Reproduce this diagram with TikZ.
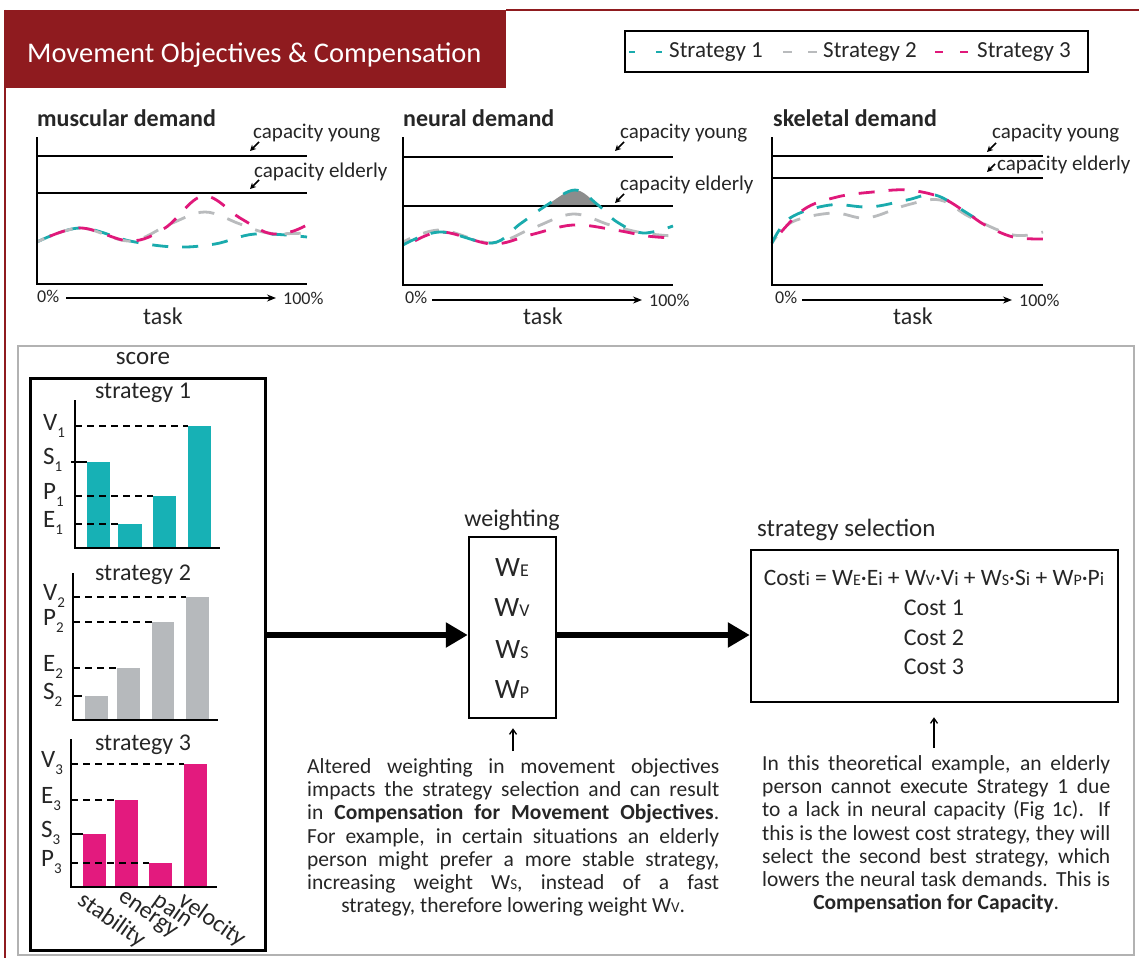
\documentclass[tikz,border=0pt]{standalone}
\usepackage{fontspec}
\setmainfont{Carlito}
\usetikzlibrary{arrows.meta}
\definecolor{hdrred}{HTML}{8F1B1F}
\definecolor{tealc}{HTML}{1AABAD}
\definecolor{grayc}{HTML}{B9BBBD}
\definecolor{magc}{HTML}{E0187A}
\definecolor{tealb}{HTML}{17B1B5}
\definecolor{grayb}{HTML}{B6B9BC}
\definecolor{magb}{HTML}{E31A7E}
\definecolor{txtc}{HTML}{262626}
\definecolor{humpc}{HTML}{8C8C8C}
\newcommand\myfs[1]{\fontsize{#1}{#1}\selectfont}
\newcommand\smc[2]{{\fontsize{#1}{#1}\selectfont #2}}
\newcommand\sbs[1]{\raisebox{-7pt}[0pt][0pt]{\myfs{15}#1}}
\begin{document}
\begin{tikzpicture}[x=1pt,y=-1pt,
  txt/.style={inner sep=0pt, text=txtc},
  ttl/.style={txt, anchor=west, font=\bfseries\myfs{24}},
  caplbl/.style={txt, anchor=west, font=\myfs{21}},
  pctlbl/.style={txt, anchor=west, font=\myfs{18}},
  tasklbl/.style={txt, font=\myfs{24}},
  capline/.style={line width=2.6pt},
  axisl/.style={line width=2.6pt},
  pointer/.style={-{Stealth[length=6pt,width=6pt]}, line width=1.6pt},
  taskarr/.style={-{Stealth[length=9pt,width=7pt]}, line width=1.3pt, shorten >=7pt},
  curve/.style={line width=2.8pt, dash pattern=on 16pt off 14pt},
  barax/.style={line width=2.5pt},
  refl/.style={line width=1.5pt, dash pattern=on 7pt off 5pt},
  letlbl/.style={txt, anchor=base west, font=\myfs{25}},
  stratlbl/.style={txt, font=\myfs{24}},
  rotlbl/.style={txt, anchor=north west, rotate=-35, font=\myfs{24}},
  boxn/.style={draw, line width=2.5pt, inner sep=0pt},
  bigarr/.style={line width=6pt, -{Triangle[length=22pt,width=24pt]}},
  uparr/.style={line width=1.3pt, -{Straight Barb[length=5pt,width=7pt]}},
  bodytxt/.style={txt, anchor=north west, font=\myfs{21.5}}
]
\useasboundingbox (0,0) rectangle (1139,958);
\fill[white] (0,0) rectangle (1139,958);

% ---------- header ----------
\fill[hdrred] (5,10) rectangle (506,88);
\draw[hdrred, line width=2.4pt] (506,10) -- (1139,10);
\draw[hdrred, line width=2.4pt] (5,10) -- (5,958);
\node[inner sep=0pt, anchor=west, text=white] (title) at (27,55) {\myfs{28.5}Movement Objectives \& Compensation};

% ---------- legend ----------
\node[draw, line width=1.5pt, minimum width=463pt, minimum height=41pt, inner sep=0pt] (legend) at (856.5,51.5) {};
\draw[tealc, line width=2.8pt, dash pattern=on 6pt off 21pt] (629,52) -- (663,52);
\node[txt, anchor=west] (lg1) at (669,52) {\myfs{23}Strategy 1};
\draw[grayc, line width=2.8pt, dash pattern=on 9pt off 16pt] (783,52) -- (817,52);
\node[txt, anchor=west] (lg2) at (823,52) {\myfs{23}Strategy 2};
\draw[magc, line width=2.8pt, dash pattern=on 8pt off 17pt] (935,52) -- (968,52);
\node[txt, anchor=west] (lg3) at (977,52) {\myfs{23}Strategy 3};

% ---------- plot 1: muscular ----------
\node[ttl] (t1) at (37,118) {muscular demand};
\draw[capline] (37,156) -- (307,156);
\draw[capline] (37,193) -- (307,193);
\draw[tealc, curve] plot[smooth, tension=0.6] coordinates {(37,242) (80,228) (130,241) (175,247) (215,244) (255,234) (307,237)};
\draw[grayc, curve, dash phase=8pt] plot[smooth, tension=0.6] coordinates {(37,242) (80,228) (130,241) (170,224) (205,212) (240,224) (268,233) (307,233)};
\draw[magc, curve, dash phase=16pt] plot[smooth, tension=0.6] coordinates {(37,242) (80,228) (130,241) (165,228) (203,196) (240,218) (268,233) (290,232) (307,225)};
\draw[axisl] (37,137) -- (37,284) -- (307,284);
\node[caplbl] (cy1) at (253,133) {capacity young};
\draw[pointer] (259,142) -- (250,151);
\node[caplbl] (ce1) at (254,172) {capacity elderly};
\draw[pointer] (259,180) -- (250,189);
\node[pctlbl] (z1) at (37,296) {0\%};
\node[pctlbl] (h1) at (283,298) {100\%};
\draw[taskarr] (66,298) -- (h1.west);
\node[tasklbl] (k1) at (163,316) {task};

% ---------- plot 2: neural ----------
\node[ttl] (t2) at (403,118) {neural demand};
\draw[capline] (403,157) -- (673,157);
\begin{scope}
  \clip (403,137) rectangle (673,206);
  \fill[humpc] plot[smooth, tension=0.6] coordinates {(403,245) (440,232) (492,243) (520,224) (547,205) (575,190) (598,205) (617,222) (643,233) (673,226)} -- (673,300) -- (403,300) -- cycle;
\end{scope}
\draw[capline] (403,206) -- (673,206);
\draw[grayc, curve, dash phase=8pt] plot[smooth, tension=0.6] coordinates {(403,242) (440,230) (492,243) (533,228) (573,214) (610,225) (643,233) (673,236)};
\draw[magc, curve, dash phase=16pt] plot[smooth, tension=0.6] coordinates {(403,248) (440,232) (492,244) (530,235) (573,225) (615,230) (647,236) (673,238)};
\draw[tealc, curve] plot[smooth, tension=0.6] coordinates {(403,245) (440,232) (492,243) (520,224) (547,205) (575,190) (598,205) (617,222) (643,233) (673,226)};
\draw[axisl] (403,137) -- (403,285) -- (673,285);
\node[caplbl] (cy2) at (620,133) {capacity young};
\draw[pointer] (624,142) -- (615,151);
\node[caplbl] (ce2) at (620,185) {capacity elderly};
\draw[pointer] (624,194) -- (615,203);
\node[pctlbl] (z2) at (405,297) {0\%};
\node[pctlbl] (h2) at (649,300) {100\%};
\draw[taskarr] (432,300) -- (h2.west);
\node[tasklbl] (k2) at (543,316) {task};

% ---------- plot 3: skeletal ----------
\node[ttl] (t3) at (773,118) {skeletal demand};
\draw[capline] (772,156) -- (1043,156);
\draw[capline] (772,178) -- (1043,178);
\draw[grayc, curve, dash phase=8pt] plot[smooth, tension=0.6] coordinates {(772,243) (792,222) (833,213) (867,218) (907,205) (940,200) (970,217) (1013,235) (1043,232)};
\draw[tealc, curve] plot[smooth, tension=0.6] coordinates {(772,243) (790,218) (830,205) (870,207) (907,200) (935,195) (967,213) (985,225)};
\draw[magc, curve, dash phase=16pt] plot[smooth, tension=0.6] coordinates {(772,243) (803,210) (837,197) (873,192) (907,190) (940,197) (967,213) (985,225) (1013,237) (1043,239)};
\draw[axisl] (772,137) -- (772,285) -- (1043,285);
\node[caplbl] (cy3) at (992,133) {capacity young};
\draw[pointer] (996,143) -- (987,152);
\node[caplbl] (ce3) at (997,165) {capacity elderly};
\draw[pointer] (995,164) -- (987,172);
\node[pctlbl] (z3) at (775,297) {0\%};
\node[pctlbl] (h3) at (1019,300) {100\%};
\draw[taskarr] (802,300) -- (h3.west);
\node[tasklbl] (k3) at (913,316) {task};

% ---------- lower panel ----------
\draw[gray!60, line width=1.5pt] (18,346) rectangle (1134,955);
\node[txt] (scorelbl) at (143,359) {\myfs{25}score};
\node[draw, line width=3pt, minimum width=235pt, minimum height=572pt, inner sep=0pt] (scorebox) at (147.5,664) {};

% strategy 1
\node[stratlbl] (s1) at (143,393) {strategy 1};
\fill[tealb] (87,462) rectangle (110,548);
\fill[tealb] (118,524) rectangle (142,548);
\fill[tealb] (153,496) rectangle (176,548);
\fill[tealb] (188,426) rectangle (211,548);
\draw[refl] (75,426) -- (188,426);
\draw[refl] (75,496) -- (153,496);
\draw[refl] (75,524) -- (118,524);
\draw[line width=1.5pt] (71,462) -- (87,462);
\draw[barax] (75,400) -- (75,548) -- (220,548);
\node[letlbl] at (43,430) {V\sbs{1}};
\node[letlbl] at (43,464) {S\sbs{1}};
\node[letlbl] at (43,499) {P\sbs{1}};
\node[letlbl] at (43,527) {E\sbs{1}};

% strategy 2
\node[stratlbl] (s2) at (143,575) {strategy 2};
\fill[grayb] (85,696) rectangle (108,720);
\fill[grayb] (117,668) rectangle (140,720);
\fill[grayb] (152,622) rectangle (174,720);
\fill[grayb] (186,597) rectangle (209,720);
\draw[refl] (73,597) -- (186,597);
\draw[refl] (73,622) -- (152,622);
\draw[refl] (73,668) -- (117,668);
\draw[line width=1.5pt] (73,696) -- (82,696);
\draw[barax] (73,573) -- (73,720) -- (218,720);
\node[letlbl] at (43,600) {V\sbs{2}};
\node[letlbl] at (43,625) {P\sbs{2}};
\node[letlbl] at (43,671) {E\sbs{2}};
\node[letlbl] at (43,699) {S\sbs{2}};

% strategy 3
\node[stratlbl] (s3) at (143,745) {strategy 3};
\fill[magb] (83,834) rectangle (106,887);
\fill[magb] (115,800) rectangle (138,887);
\fill[magb] (149,863) rectangle (172,887);
\fill[magb] (184,764) rectangle (207,887);
\draw[refl] (71,764) -- (184,764);
\draw[refl] (71,800) -- (115,800);
\draw[refl] (71,863) -- (149,863);
\draw[line width=1.5pt] (71,834) -- (83,834);
\draw[barax] (71,739) -- (71,887) -- (217,887);
\node[letlbl] at (41,767) {V\sbs{3}};
\node[letlbl] at (41,803) {E\sbs{3}};
\node[letlbl] at (41,837) {S\sbs{3}};
\node[letlbl] at (41,866) {P\sbs{3}};
\node[rotlbl] (rs) at (86,890) {stability};
\node[rotlbl] (re) at (124,890) {energy};
\node[rotlbl] (rp) at (161,890) {pain};
\node[rotlbl] (rv) at (187,890) {velocity};

% weighting
\node[txt] (wlbl) at (512,520) {\myfs{24}weighting};
\node[boxn, minimum width=87pt, minimum height=181pt] (wbox) at (512.5,627.5) {};
\node[txt] (we) at (512,568) {\myfs{28}W\smc{18}{E}};
\node[txt] (wv) at (512,608) {\myfs{28}W\smc{18}{V}};
\node[txt] (ws) at (512,650) {\myfs{28}W\smc{18}{S}};
\node[txt] (wp) at (512,690) {\myfs{28}W\smc{18}{P}};

% strategy selection
\node[txt, anchor=west] (slbl) at (757,530) {\myfs{25}strategy selection};
\node[boxn, minimum width=367pt, minimum height=152pt] (sbox) at (934.5,626) {};
\node[txt] (costi) at (934,578) {\myfs{23.5}Cost\smc{19}{i} = W\smc{16}{E}·E\smc{19}{i} + W\smc{16}{V}·V\smc{19}{i} + W\smc{16}{S}·S\smc{19}{i} + W\smc{16}{P}·P\smc{19}{i}};
\node[txt] (c1) at (934,608) {\myfs{24}Cost 1};
\node[txt] (c2) at (934,638) {\myfs{24}Cost 2};
\node[txt] (c3) at (934,667) {\myfs{24}Cost 3};

% arrows
\draw[bigarr] (scorebox.east |- 0,635) -- (wbox.west |- 0,635);
\draw[bigarr] (wbox.east |- 0,635) -- (sbox.west |- 0,635);

% text blocks
\node[bodytxt] (tb1) at (307,758) {\parbox{412pt}{\spaceskip=0.226em plus 0.6em minus 0.12em\baselineskip=23.3pt
\makebox[412pt][s]{Altered weighting in movement objectives}\\
\makebox[412pt][s]{impacts the strategy selection and can result}\\
\makebox[412pt][s]{in \textbf{Compensation for Movement Objectives}.}\\
\makebox[412pt][s]{For example, in certain situations an elderly}\\
\makebox[412pt][s]{person might prefer a more stable strategy,}\\
\makebox[412pt][s]{increasing weight W\smc{15}{S}, instead of a fast}\\
\makebox[412pt][c]{strategy, therefore lowering weight W\smc{15}{V}.}}};
\node[bodytxt] (tb2) at (762,755) {\parbox{348pt}{\spaceskip=0.226em plus 0.6em minus 0.12em\baselineskip=23.3pt
\makebox[348pt][s]{In this theoretical example, an elderly}\\
\makebox[348pt][s]{person cannot execute Strategy 1 due}\\
\makebox[348pt][s]{to a lack in neural capacity (Fig 1c). If}\\
\makebox[348pt][s]{this is the lowest cost strategy, they will}\\
\makebox[348pt][s]{select the second best strategy, which}\\
\makebox[348pt][s]{lowers the neural task demands. This is}\\
\makebox[348pt][c]{\textbf{Compensation for Capacity}.}}};
\coordinate (a1) at (513,751);
\coordinate (a2) at (934,748);
\draw[uparr, shorten >=9pt] (a1) -- (wbox.south -| a1);
\draw[uparr, shorten >=14pt] (a2) -- (sbox.south -| a2);
\end{tikzpicture}
\end{document}
